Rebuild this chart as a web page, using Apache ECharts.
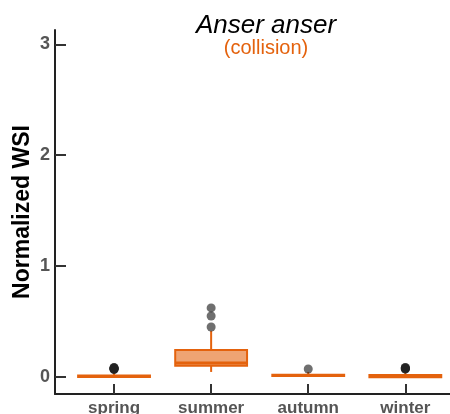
<!DOCTYPE html>
<html>
<head>
<meta charset="utf-8">
<script src="https://cdn.jsdelivr.net/npm/echarts@6/dist/echarts.min.js"></script>
<style>
  html, body { margin: 0; padding: 0; background: #fff; }
  #chart { width: 450px; height: 414px; }
</style>
</head>
<body>
<div id="chart"></div>
<script>
// Seasons on the x axis
const seasons = ['spring', 'summer', 'autumn', 'winter'];

// Box statistics per season: [lower whisker, Q1, median, Q3, upper whisker]
const springBox = [0.000, 0.000, 0.004, 0.012, 0.035];
const summerBox = [0.045, 0.100, 0.126, 0.244, 0.415];
const autumnBox = [0.003, 0.008, 0.013, 0.019, 0.045];
const winterBox = [-0.008, -0.004, 0.004, 0.018, 0.040];

// Outlying observations per season
const springOut = [0.066, 0.070, 0.072, 0.075, 0.078, 0.080, 0.082, 0.085];
const summerOut = [0.450, 0.550, 0.623];
const autumnOut = [0.072];
const winterOut = [0.070, 0.073, 0.076, 0.080, 0.083, 0.086];

// Y tick values
const yTicks = [0, 1, 2, 3];

const boxes = [springBox, summerBox, autumnBox, winterBox];
const outs = [springOut, summerOut, autumnOut, winterOut];

const boxData = boxes.map((b, i) => [i + 1].concat(b));
const outData = [];
outs.forEach((arr, i) => arr.forEach(v => outData.push([i + 1, v])));

const ORANGE = '#E4620D';
const FILL = 'rgba(228,98,13,0.58)';

const chart = echarts.init(document.getElementById('chart'), null, { renderer: 'canvas' });

chart.setOption({
  animation: false,
  backgroundColor: '#ffffff',
  title: {
    text: 'Anser anser',
    subtext: '(collision)',
    left: 261,
    top: 8,
    textAlign: 'center',
    itemGap: -1,
    textStyle: { fontFamily: 'Liberation Sans', fontStyle: 'italic', fontWeight: 'normal', fontSize: 26, color: '#000' },
    subtextStyle: { fontFamily: 'Liberation Sans', fontSize: 20, color: ORANGE }
  },
  grid: { left: 55, right: 0, top: 30, bottom: 20, containLabel: false, outerBoundsMode: 'none' },
  xAxis: {
    type: 'value',
    min: 0.392,
    max: 4.46,
    splitLine: { show: false },
    axisLine: { show: true, onZero: false, lineStyle: { color: '#222', width: 2 } },
    axisTick: { show: true, inside: true, length: 10, customValues: [1, 2, 3, 4], lineStyle: { color: '#333', width: 2 } },
    axisLabel: {
      customValues: [1, 2, 3, 4],
      formatter: v => seasons[Math.round(v) - 1],
      margin: 6,
      fontFamily: 'Liberation Sans', fontWeight: 'bold', fontSize: 17, color: '#555'
    }
  },
  yAxis: {
    type: 'value',
    min: -0.154,
    max: 3.13,
    name: 'Normalized WSI',
    nameLocation: 'middle',
    nameGap: 21,
    nameMoveOverlap: false,
    nameTextStyle: { fontFamily: 'Liberation Sans', fontWeight: 'bold', fontSize: 23, color: '#000' },
    splitLine: { show: false },
    axisLine: { show: true, onZero: false, lineStyle: { color: '#222', width: 2 } },
    axisTick: { show: true, inside: true, length: 11, customValues: yTicks, lineStyle: { color: '#333', width: 2 } },
    axisLabel: {
      customValues: yTicks,
      formatter: v => String(Math.round(v)),
      margin: 5,
      fontFamily: 'Liberation Sans', fontWeight: 'bold', fontSize: 18, color: '#555'
    }
  },
  series: [
    {
      type: 'custom',
      data: boxData,
      encode: { x: 0, y: [1, 2, 3, 4, 5] },
      renderItem: function (params, api) {
        const x = api.value(0);
        const pMin = api.coord([x, api.value(1)]);
        const pQ1 = api.coord([x, api.value(2)]);
        const pMed = api.coord([x, api.value(3)]);
        const pQ3 = api.coord([x, api.value(4)]);
        const pMax = api.coord([x, api.value(5)]);
        const half = api.size([0.74, 0])[0] / 2;
        const cx = pMed[0];
        return {
          type: 'group',
          children: [
            { type: 'line', shape: { x1: cx, y1: pQ3[1], x2: cx, y2: pMax[1] }, style: { stroke: ORANGE, lineWidth: 2 } },
            { type: 'line', shape: { x1: cx, y1: pQ1[1], x2: cx, y2: pMin[1] }, style: { stroke: ORANGE, lineWidth: 2 } },
            { type: 'rect', shape: { x: cx - half, y: pQ3[1], width: half * 2, height: pQ1[1] - pQ3[1] }, style: { fill: FILL, stroke: ORANGE, lineWidth: 2 } },
            { type: 'line', shape: { x1: cx - half, y1: pMed[1], x2: cx + half, y2: pMed[1] }, style: { stroke: ORANGE, lineWidth: 3 } }
          ]
        };
      },
      z: 2
    },
    {
      type: 'scatter',
      data: outData,
      symbol: 'circle',
      symbolSize: 9,
      itemStyle: { color: '#222', opacity: 0.65 },
      z: 3
    }
  ]
});
</script>
</body>
</html>
